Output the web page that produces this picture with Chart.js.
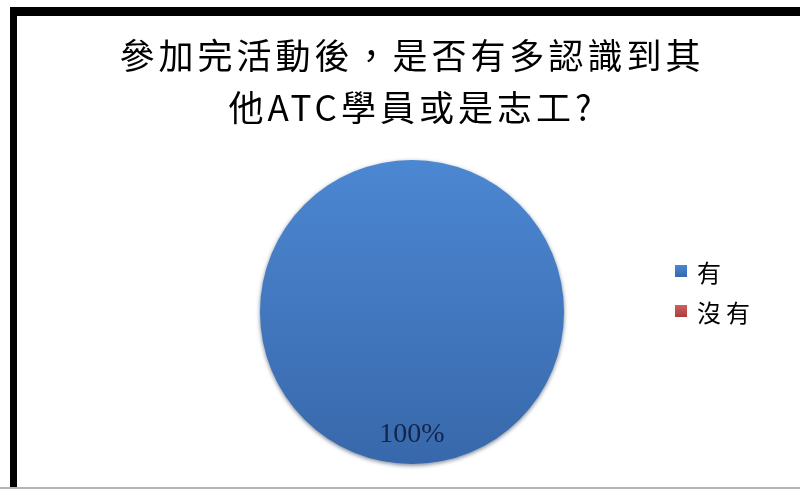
<!DOCTYPE html>
<html>
<head>
<meta charset="utf-8">
<script src="https://cdn.jsdelivr.net/npm/chart.js@4"></script>
<style>
  body { margin: 0; width: 800px; height: 489px; background: #fff; position: relative; overflow: hidden; }
  #frame { position: absolute; left: 10px; top: 7px; width: 790px; height: 480px; box-sizing: border-box;
           border-top: 9px solid #000; border-left: 7px solid #000; }
  #chartBox { position: absolute; left: 0; top: 0; width: 783px; height: 471px; }
  #legend { position: absolute; left: 658px; top: 235px; margin: 0; padding: 0; list-style: none; }
  #legend li { display: flex; align-items: center; height: 40px; font: 24px "Noto Sans CJK TC"; letter-spacing: 5px; color: #000; }
  #legend .box { width: 12px; height: 12px; margin-right: 10px; }
  #footer { position: absolute; left: 0; top: 487px; width: 800px; height: 2px; background: #b4b4b4; }
</style>
</head>
<body>
<div id="frame">
  <div id="chartBox"><canvas id="chart"></canvas></div>
  <ul id="legend"></ul>
</div>
<div id="footer"></div>
<script>
const chartTitle = ['參加完活動後，是否有多認識到其', '他ATC學員或是志工?'];
const answerLabels = ['有', '沒有'];
const answerValues = [100, 0];
// top / bottom shade of each slice
const sliceShades = [['#4c87d2', '#3868ab'], ['#d0605c', '#a83e3b']];

function sliceFill(context) {
    const shades = sliceShades[context.dataIndex];
    const area = context.chart.chartArea;
    if (!area) return shades[0];
    const g = context.chart.ctx.createLinearGradient(0, area.top, 0, area.bottom);
    g.addColorStop(0, shades[0]);
    g.addColorStop(1, shades[1]);
    return g;
}

// title text is spaced out, the rest is not; slices get a soft dark edge
const textSpacing = {
    id: 'textSpacing',
    beforeDraw(chart) { chart.ctx.letterSpacing = '4px'; },
    beforeDatasetsDraw(chart) {
        const ctx = chart.ctx;
        ctx.letterSpacing = '0px';
        ctx.save();
        ctx.shadowColor = 'rgba(10, 30, 60, 0.55)';
        ctx.shadowBlur = 4;
        ctx.shadowOffsetY = 1.5;
    },
    afterDatasetsDraw(chart) {
        const ctx = chart.ctx;
        ctx.restore();
        const values = chart.data.datasets[0].data;
        const total = values.reduce((a, b) => a + b, 0);
        ctx.save();
        ctx.font = '28px "Liberation Serif"';
        ctx.fillStyle = '#13254a';
        ctx.textAlign = 'center';
        ctx.textBaseline = 'middle';
        chart.getDatasetMeta(0).data.forEach((arc, i) => {
            if (!values[i]) return;
            const p = arc.getProps(['x', 'y', 'startAngle', 'endAngle', 'outerRadius'], true);
            const mid = (p.startAngle + p.endAngle) / 2;
            const r = p.outerRadius * 0.81;
            ctx.fillText(Math.round(values[i] / total * 100) + '%', p.x + Math.cos(mid) * r, p.y + Math.sin(mid) * r);
        });
        ctx.restore();
    }
};

const htmlLegend = {
    id: 'htmlLegend',
    afterUpdate(chart) {
        const list = document.getElementById('legend');
        list.innerHTML = '';
        chart.data.labels.forEach((label, i) => {
            const li = document.createElement('li');
            const box = document.createElement('span');
            box.className = 'box';
            box.style.background = `linear-gradient(${sliceShades[i][0]}, ${sliceShades[i][1]})`;
            li.appendChild(box);
            li.appendChild(document.createTextNode(label));
            list.appendChild(li);
        });
    }
};

new Chart(document.getElementById('chart'), {
    type: 'pie',
    data: {
        labels: answerLabels,
        datasets: [{
            data: answerValues,
            backgroundColor: sliceFill,
            borderWidth: 0
        }]
    },
    options: {
        responsive: true,
        maintainAspectRatio: false,
        animation: false,
        layout: { padding: { left: 57, right: 50, top: 0, bottom: 23 } },
        plugins: {
            legend: { display: false },
            tooltip: { enabled: false },
            title: {
                display: true,
                text: chartTitle,
                color: '#000',
                font: { family: '"Noto Sans CJK TC"', size: 35, weight: 'normal', lineHeight: 52 / 35 },
                padding: { top: 14, bottom: 26 }
            }
        }
    },
    plugins: [textSpacing, htmlLegend]
});
</script>
</body>
</html>
